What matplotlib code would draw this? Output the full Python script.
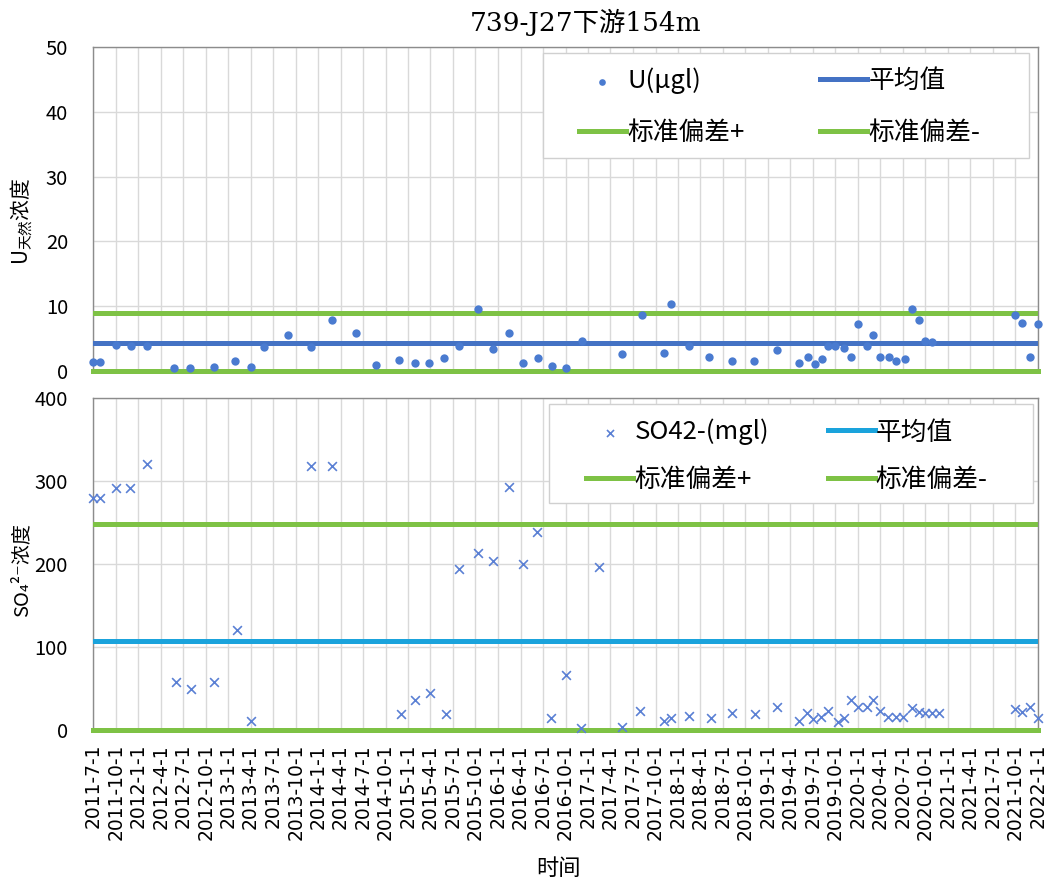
import numpy as np
import pandas as pd
import matplotlib
matplotlib.use("Agg")
import matplotlib.pyplot as plt
from matplotlib.patches import Rectangle

plt.rcParams['font.family'] = ['Noto Sans CJK SC', 'DejaVu Sans']
plt.rcParams['mathtext.fontset'] = 'custom'
plt.rcParams['mathtext.rm'] = 'Noto Sans CJK SC'
plt.rcParams['mathtext.it'] = 'Noto Sans CJK SC'
plt.rcParams['axes.unicode_minus'] = False

# ---- data ----
u_dates = ['2011-07-01', '2011-07-30', '2011-10-01', '2011-12-01', '2012-02-04',
           '2012-05-25', '2012-07-28', '2012-11-02', '2013-01-28', '2013-04-01',
           '2013-05-25', '2013-09-01', '2013-12-04', '2014-02-25', '2014-06-03',
           '2014-08-25', '2014-11-25', '2015-01-28', '2015-03-25', '2015-05-25',
           '2015-07-28', '2015-10-10', '2015-12-12', '2016-02-15', '2016-04-10',
           '2016-06-12', '2016-08-06', '2016-10-01', '2016-12-05', '2017-05-16',
           '2017-08-06', '2017-11-06', '2017-12-04', '2018-02-15', '2018-05-06',
           '2018-08-06', '2018-11-06', '2019-02-06', '2019-05-06', '2019-06-12',
           '2019-07-10', '2019-08-06', '2019-09-03', '2019-10-01', '2019-11-06',
           '2019-12-04', '2020-01-01', '2020-02-06', '2020-03-04', '2020-04-01',
           '2020-05-06', '2020-06-04', '2020-07-10', '2020-08-06', '2020-09-03',
           '2020-10-01', '2020-10-28', '2021-09-28', '2021-10-28', '2021-12-01',
           '2022-01-01']
u_values = [1.4, 1.4, 4.0, 3.9, 3.9, 0.4, 0.4, 0.6, 1.5, 0.6,
            3.7, 5.6, 3.7, 7.8, 5.9, 0.9, 1.7, 1.2, 1.2, 2.0,
            3.9, 9.6, 3.4, 5.9, 1.2, 2.0, 0.8, 0.4, 4.6, 2.7,
            8.6, 2.8, 10.3, 3.8, 2.1, 1.6, 1.6, 3.3, 1.3, 2.1,
            1.05, 1.8, 3.8, 3.8, 3.6, 2.1, 7.3, 3.8, 5.5, 2.1,
            2.1, 1.6, 1.9, 9.5, 7.9, 4.7, 4.5, 8.7, 7.4, 2.2,
            7.2]
u_mean = 4.3
u_std_plus = 9.0
u_std_minus = 0.0

so4_dates = ['2011-07-01', '2011-07-30', '2011-10-04', '2011-11-28', '2012-02-04',
             '2012-06-04', '2012-08-01', '2012-11-02', '2013-02-04', '2013-04-01',
             '2013-12-02', '2014-02-25', '2014-12-04', '2015-01-28', '2015-04-01',
             '2015-06-04', '2015-07-28', '2015-10-10', '2015-12-12', '2016-02-15',
             '2016-04-10', '2016-06-08', '2016-08-04', '2016-10-01', '2016-12-01',
             '2017-02-15', '2017-05-16', '2017-07-28', '2017-11-06', '2017-12-04',
             '2018-02-15', '2018-05-16', '2018-08-06', '2018-11-10', '2019-02-06',
             '2019-05-06', '2019-06-09', '2019-07-04', '2019-08-03', '2019-09-03',
             '2019-10-10', '2019-11-06', '2019-12-04', '2020-01-01', '2020-02-06',
             '2020-03-04', '2020-04-01', '2020-05-02', '2020-06-04', '2020-07-01',
             '2020-08-06', '2020-09-03', '2020-10-01', '2020-10-28', '2020-11-25',
             '2021-09-28', '2021-10-28', '2021-12-01', '2022-01-01']
so4_values = [280, 280, 291, 291, 320, 58, 49, 58, 120, 11,
              318, 318, 19, 36, 44, 19, 194, 213, 204, 293,
              200, 238, 14, 66, 2, 196, 4, 23, 10.5, 14.5,
              17.4, 14.5, 20, 19.4, 27.4, 11.3, 20.6, 13.3, 15.3, 23.4,
              9.3, 14.1, 36.7, 27.4, 27.4, 36.7, 23.4, 15.3, 15.3, 16,
              26.2, 21.4, 20.6, 20.6, 20.6, 25.4, 21.4, 28.2, 14.1]
so4_mean = 107
so4_std_plus = 248
so4_std_minus = 0.0

title = '739-J27下游154m'
# legend entries, row by row as in the picture
legend_u = ['U(μgl)', '平均值', '标准偏差+', '标准偏差-']
legend_so4 = ['SO42-(mgl)', '平均值', '标准偏差+', '标准偏差-']

# ---- figure ----
fig = plt.figure(figsize=(10.49, 8.88), dpi=100)
ax1 = fig.add_axes([93 / 1049, 1 - 371 / 888, 945 / 1049, 324 / 888])
ax2 = fig.add_axes([93 / 1049, 1 - 730 / 888, 945 / 1049, 332 / 888])

green = '#7EC245'
grid_c = '#D9D9D9'
quarters = pd.date_range('2011-07-01', '2022-01-01', freq='QS-JAN')

ud = pd.to_datetime(u_dates)
sd = pd.to_datetime(so4_dates)


def row_order(items):
    # matplotlib fills legend columns first; reorder so rows read like the original
    return [items[0], items[2], items[1], items[3]]


# top panel
h_mean, = ax1.plot(ud, [u_mean] * len(ud), color='#4472C4', lw=3.6, zorder=3)
h_sp, = ax1.plot(ud, [u_std_plus] * len(ud), color=green, lw=3.6, zorder=3)
h_sm, = ax1.plot(ud, [u_std_minus] * len(ud), color=green, lw=3.6, zorder=3,
                 clip_on=False)
h_pts = ax1.scatter(ud, u_values, s=36, color='#4A7BD0', zorder=4,
                    clip_on=False, linewidths=0)
ax1.set_ylim(0, 50)
ax1.set_yticks(np.arange(0, 51, 10))
ax1.add_patch(Rectangle((0.476, 0.657), 0.515, 0.324, transform=ax1.transAxes,
                        facecolor='white', edgecolor='#D0D0D0', lw=1, zorder=5))
leg1 = ax1.legend(row_order([h_pts, h_mean, h_sp, h_sm]), row_order(legend_u),
                  ncol=2, loc='upper left', bbox_to_anchor=(0.514, 0.936),
                  fontsize=18.5, handlelength=1.83, handletextpad=0.05,
                  labelspacing=1.0, columnspacing=2.95, borderpad=0,
                  borderaxespad=0, frameon=False, scatterpoints=1, markerscale=0.8)
leg1.set_zorder(6)

# bottom panel
g_mean, = ax2.plot(sd, [so4_mean] * len(sd), color='#1AA3DC', lw=3.6, zorder=3)
g_sp, = ax2.plot(sd, [so4_std_plus] * len(sd), color=green, lw=3.6, zorder=3)
g_sm, = ax2.plot(sd, [so4_std_minus] * len(sd), color=green, lw=3.6, zorder=3,
                 clip_on=False)
g_pts = ax2.scatter(sd, so4_values, marker='x', s=40, color='#5B80D4',
                    linewidths=1.2, zorder=4, clip_on=False)
ax2.set_ylim(0, 400)
ax2.set_yticks(np.arange(0, 401, 100))
ax2.add_patch(Rectangle((0.4825, 0.684), 0.512, 0.298, transform=ax2.transAxes,
                        facecolor='white', edgecolor='#D0D0D0', lw=1, zorder=5))
leg2 = ax2.legend(row_order([g_pts, g_mean, g_sp, g_sm]), row_order(legend_so4),
                  ncol=2, loc='upper left', bbox_to_anchor=(0.522, 0.937),
                  fontsize=18.5, handlelength=1.83, handletextpad=0.05,
                  labelspacing=0.85, columnspacing=2.27, borderpad=0,
                  borderaxespad=0, frameon=False, scatterpoints=1, markerscale=0.8)
leg2.set_zorder(6)

for ax in (ax1, ax2):
    ax.set_xlim(quarters[0], quarters[-1])
    ax.set_xticks(quarters)
    ax.grid(True, color=grid_c, lw=1)
    ax.set_axisbelow(True)
    ax.tick_params(length=0, labelsize=14.5, pad=18)
    for s in ax.spines.values():
        s.set_color('#8C8C8C')
        s.set_linewidth(1)

ax1.set_xticklabels([])
ax2.set_xticklabels([f'{d.year}-{d.month}-{d.day}' for d in quarters],
                    rotation=90, fontsize=13.5, family=['DejaVu Sans'])
ax2.tick_params(axis='x', pad=10)

fig.text(586 / 1049, 1 - 22 / 888, title, ha='center', va='center', fontsize=19,
         family=['DejaVu Serif', 'Noto Sans CJK SC'])
fig.text(22 / 1049, 1 - 221 / 888, r'U$_{\mathrm{天然}}$浓度', rotation=90,
         ha='center', va='center', fontsize=15)
fig.text(22 / 1049, 1 - 570 / 888, 'SO₄²⁻浓度', rotation=90,
         ha='center', va='center', fontsize=14.5,
         family=['Noto Sans CJK SC', 'DejaVu Sans'])
fig.text(558 / 1049, 1 - 868 / 888, '时间', ha='center', va='center', fontsize=16)

fig.savefig('out.png', dpi=100)
